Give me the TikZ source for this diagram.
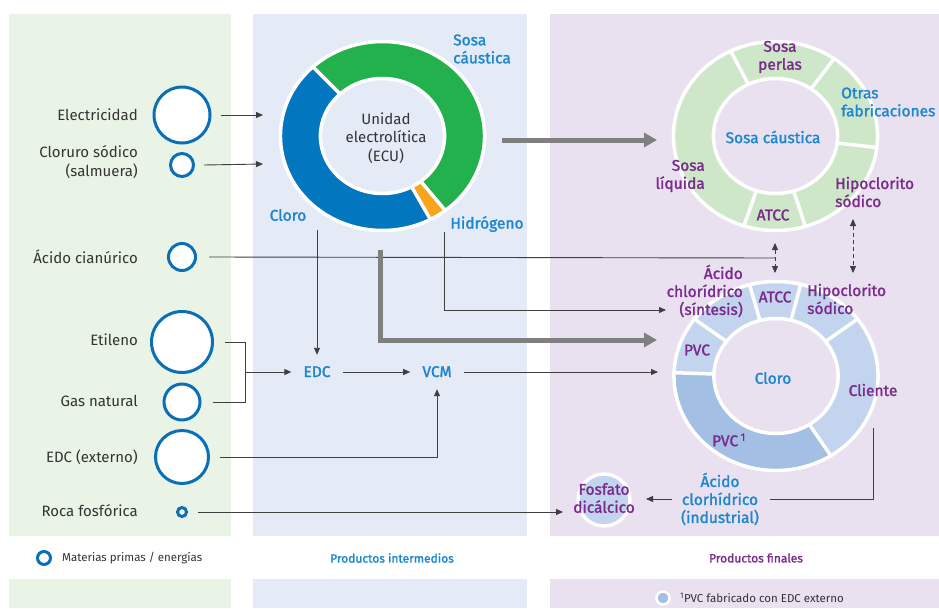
\documentclass[tikz,border=0pt]{standalone}
\usepackage{fontspec}
\usepackage{graphicx}
\setmainfont{Fira Sans}
\newfontfamily\medf[FakeBold=1.6]{Fira Sans}
\usetikzlibrary{arrows.meta}
\definecolor{pgreen}{HTML}{E9F3E6}
\definecolor{pblue}{HTML}{E4EAF6}
\definecolor{ppurple}{HTML}{E9E1F0}
\definecolor{srcblue}{HTML}{0B6FB8}
\definecolor{ecugreen}{HTML}{22B14C}
\definecolor{ecublue}{HTML}{0277C0}
\definecolor{ecuorange}{HTML}{F7A51E}
\definecolor{ringgreen}{HTML}{CDE7C8}
\definecolor{ringblue}{HTML}{C3D5EE}
\definecolor{ringbluedk}{HTML}{A3BFE4}
\definecolor{lblue}{HTML}{1D86CE}
\definecolor{lpurple}{HTML}{7A2B8C}
\definecolor{txtg}{HTML}{333333}
\definecolor{lineg}{HTML}{3F3F3F}
\definecolor{arrg}{HTML}{7F7F7F}
\newcommand\myRout{94.5pt}
\newcommand\myRin{57.5pt}
\newcommand\ringseg[3]{\fill[#1] (#2:\myRout) arc[start angle=#2,end angle=#3,radius=\myRout] -- (#3:\myRin) arc[start angle=#3,end angle=#2,radius=\myRin] -- cycle;}
\newcommand\ringsep[1]{\draw[white,line width=3.5pt] (#1:56pt) -- (#1:96pt);}
\newcommand\ringborder{\draw[white,line width=3.5pt] (0,0) circle[radius=\myRout]; \draw[white,line width=3.5pt] (0,0) circle[radius=\myRin];}
\begin{document}
\begin{tikzpicture}[x=1pt,y=-1pt,
  lbl/.style={anchor=east,align=right,text=txtg,inner sep=0pt,font=\fontsize{15}{19.5}\selectfont},
  src/.style={circle,draw=srcblue,line width=3pt,fill=white,inner sep=0pt},
  clab/.style={inner sep=0pt,font=\medf\fontsize{15.5}{18}\selectfont},
  cb/.style={clab,text=lblue},
  cp/.style={clab,text=lpurple},
  mid/.style={cb,inner xsep=12pt,inner ysep=12pt,text height=10pt,text depth=0pt},
  tl/.style={draw=lineg,line width=0.9pt},
  ta/.style={tl,-{Triangle[length=7pt,width=6pt]}},
  tda/.style={tl,dash pattern=on 4pt off 3pt,{Triangle[length=7pt,width=6pt]}-{Triangle[length=7pt,width=6pt]}},
  ga/.style={draw=arrg,line width=5pt,-{Triangle[length=13pt,width=14pt]}},
  leg/.style={inner sep=0pt,font=\fontsize{11.5}{13}\selectfont}
]
\useasboundingbox (0,0) rectangle (939,608);
% panels
\fill[pgreen] (9,14) rectangle (231,536);
\fill[pblue] (253,14) rectangle (527,536);
\fill[ppurple] (550,14) rectangle (939,536);
\fill[pgreen] (9,579) rectangle (231,608);
\fill[pblue] (253,579) rectangle (527,608);
\fill[ppurple] (550,579) rectangle (939,608);

% ECU ring
\begin{scope}[shift={(382.5,136)},xscale=1.08]
  \ringseg{ecublue}{133}{298}
  \ringseg{ecuorange}{298}{308}
  \ringseg{ecugreen}{308}{493}
  \ringsep{133}\ringsep{298}\ringsep{308}
  \ringborder
\end{scope}
% Sosa caustica ring
\begin{scope}[shift={(775.5,136)},xscale=1.08]
  \ringseg{ringgreen}{0}{360}
  \ringsep{55}\ringsep{116}\ringsep{-7}\ringsep{-73}\ringsep{-108}
  \ringborder
\end{scope}
% Cloro ring
\begin{scope}[shift={(776,376)},xscale=1.08]
  \ringseg{ringblue}{0}{360}
  \ringseg{ringbluedk}{178}{302.5}
  \ringsep{76}\ringsep{105}\ringsep{37}\ringsep{-57.5}\ringsep{178}\ringsep{143}
  \ringborder
\end{scope}

% source circles and labels
\node[src,minimum size=56pt] (cElec) at (182,115) {};
\node[src,minimum size=23pt] (cClor) at (182,165) {};
\node[src,minimum size=27pt] (cAcid) at (182,257) {};
\node[src,minimum size=61pt] (cEtil) at (182,342) {};
\node[src,minimum size=36pt] (cGas) at (182,402) {};
\node[src,minimum size=53pt] (cEDCx) at (182,457) {};
\node[src,minimum size=9pt] (cRoca) at (182,512) {};
\node[lbl] (tElec) at (138,115) {Electricidad};
\node[lbl] (tClor) at (138,162) {Cloruro sódico\\(salmuera)};
\node[lbl] (tAcid) at (138,257) {Ácido cianúrico};
\node[lbl] (tEtil) at (138,340) {Etileno};
\node[lbl] (tGas) at (138,401) {Gas natural};
\node[lbl] (tEDCx) at (138,457) {EDC (externo)};
\node[lbl] (tRoca) at (138,511) {Roca fosfórica};

% ECU labels
\node[align=center,text=txtg,inner sep=0pt,font=\fontsize{15}{18.5}\selectfont] (ecu) at (386,138) {Unidad\\electrolítica\\(ECU)};
\node[cb,anchor=west,align=left] (lSosa) at (453,49) {Sosa\\cáustica};
\node[cb] (lCloro) at (288,215) {Cloro};
\node[cb] (lHidr) at (487,224) {Hidrógeno};

% top-right ring labels
\node[cp,align=center] (rPerl) at (780,57) {Sosa\\perlas};
\node[cb,anchor=west,align=left] (rOtr) at (841,102) {Otras\\fabricaciones};
\node[cb] (rSosa) at (773,137) {Sosa cáustica};
\node[cp,anchor=east,align=right] (rLiq) at (705,176) {Sosa\\líquida};
\node[cp] (rATCC) at (773,215) {ATCC};
\node[cp,anchor=west,align=left] (rHip) at (835,192) {Hipoclorito\\sódico};

% bottom-right ring labels
\node[cp,anchor=east,align=right] (bAcid) at (743,291) {Ácido\\chlorídrico\\(síntesis)};
\node[cp] (bATCC) at (775,297) {ATCC};
\node[cp,anchor=west,align=left] (bHip) at (807,299) {Hipoclorito\\sódico};
\node[cp] (bPVC) at (697,350) {PVC};
\node[cb] (bCloro) at (773,378) {Cloro};
\node[cp] (bCli) at (873,390) {Cliente};
\node[cp] (bPVC1) at (729,440) {PVC\,\textsuperscript{1}};
\node[cb,align=center] (acInd) at (720,499) {Ácido\\clorhídrico\\(industrial)};
\node[circle,fill=ringblue,draw=white,line width=3.5pt,minimum size=52pt,inner sep=0pt] (fosf) at (604,500) {};
\node[cp,align=center] (fosfT) at (604,498) {Fosfato\\dicálcico};

% intermediate
\node[mid] (edc) at (317,372) {EDC};
\node[mid] (vcm) at (437,372) {VCM};

% coordinates
\coordinate (ecuIn1) at (263,115);
\coordinate (ecuIn2) at (263,164);
\coordinate (ecuR) at (502,140);
\coordinate (sosaL) at (657,140);
\coordinate (ecuB) at (380,250);
\coordinate (cloL) at (657,340);
\coordinate (ecuH) at (444,232);
\coordinate (hclS) at (666,310);
\coordinate (ecuCl) at (317,230);
\coordinate (brTop) at (245,342);
\coordinate (brBot) at (245,402);
\coordinate (brMid) at (245,372);
\coordinate (cloV) at (658,372);
\coordinate (junA) at (775,258);
\coordinate (atccT) at (775,243);
\coordinate (atccB) at (775,273);
\coordinate (hipT) at (853,219);
\coordinate (hipB) at (853,273);
\coordinate (fosfL) at (563,512);
\coordinate (cliB) at (873,428);
\coordinate (acIndR) at (770,499);
\coordinate (acIndL) at (672,499);
\coordinate (fosfR) at (646,499);

% connectors
\draw[ta] ([xshift=9pt]cElec.east) -- (ecuIn1);
\draw[ta] ([xshift=9pt]cClor.east) -- (ecuIn2);
\draw[tl] ([xshift=12pt]cAcid.east) -- (junA);
\draw[tda] (atccT) -- (atccB);
\draw[tda] (hipT) -- (hipB);
\draw[ta] (ecuCl) -- (edc);
\draw[ta] (ecuH) |- (hclS);
\draw[ga] (ecuR) -- (sosaL);
\draw[ga] (ecuB) |- (cloL);
\draw[tl] ([xshift=11pt]cEtil.east) -- (brTop) -- (brBot) -- ([xshift=11pt]cGas.east);
\draw[ta] (brMid) -- (edc);
\draw[ta] (edc) -- (vcm);
\draw[ta] (vcm) -- (cloV);
\draw[ta] ([xshift=10pt]cEDCx.east) -| (vcm.south);
\draw[ta] ([xshift=10pt]cRoca.east) -- (fosfL);
\draw[tl] (cliB) |- (acIndR);
\draw[ta] (acIndL) -- (fosfR);

% legend
\node[src,line width=3pt,minimum size=13pt] (legC) at (44,558) {};
\node[leg,anchor=west,text=txtg] (legT) at (62,558) {Materias primas / energías};
\node[leg,text=lblue,font=\medf\fontsize{12}{13}\selectfont] (legI) at (392,558) {Productos intermedios};
\node[leg,text=lpurple,font=\medf\fontsize{12}{13}\selectfont] (legF) at (756,558) {Productos finales};
\node[circle,fill=ringbluedk,draw=white,line width=2.5pt,minimum size=13pt,inner sep=0pt] (legP) at (663,598) {};
\node[leg,anchor=west,text=txtg] (legPT) at (680,598) {\textsuperscript{1}PVC fabricado con EDC externo};
\end{tikzpicture}
\end{document}
